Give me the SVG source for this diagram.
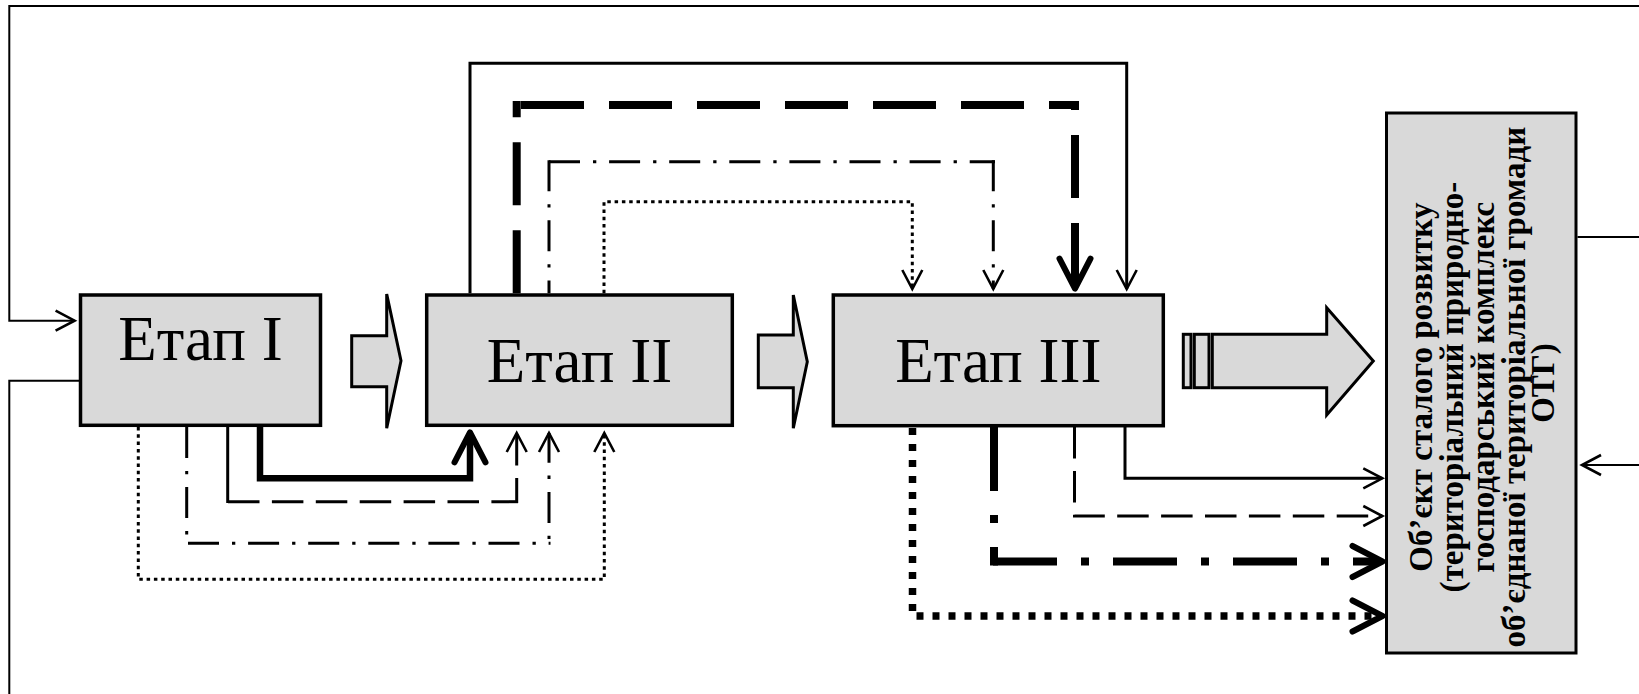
<svg xmlns="http://www.w3.org/2000/svg" width="1639" height="694" viewBox="0 0 1639 694">
  <style>
    .box { fill: #d9d9d9; stroke: #000; stroke-width: 3.5; }
    .blk { fill: #d9d9d9; stroke: #000; stroke-width: 3; stroke-linejoin: miter; }
    .ln { fill: none; stroke: #000; }
    .loop { stroke-width: 2; }
    .thin { stroke-width: 3; }
    .dash { stroke-width: 3; stroke-dasharray: 31.5 12.4; }
    .dd { stroke-width: 3; stroke-dasharray: 31 13 3.3 12.8; }
    .dot { stroke-width: 3; stroke-dasharray: 3.5 3.8; }
    .heavy { stroke-width: 6.5; }
    .ldash { stroke-width: 8; stroke-dasharray: 63 25; }
    .bdd { stroke-width: 8; stroke-dasharray: 64 24 8 24; }
    .bdot { stroke-width: 7.5; stroke-dasharray: 7 9; }
    .stage { font-family: "Liberation Serif", "Times New Roman", serif; font-size: 63px; text-anchor: middle; fill: #000; }
    .obj { font-family: "Liberation Serif", "Times New Roman", serif; font-weight: bold; font-size: 33px; text-anchor: middle; fill: #000; }
  </style>
  <defs>
    <!-- thin open chevron; the path end sits at the vertex -->
    <marker id="ah" markerUnits="userSpaceOnUse" markerWidth="30" markerHeight="30" refX="0" refY="0" orient="auto" overflow="visible">
      <path d="M-19,-10 L0,0 L-19,10" fill="none" stroke="#000" stroke-width="2.6"/>
    </marker>
    <!-- heavy open chevron with rounded ends -->
    <marker id="ahb" markerUnits="userSpaceOnUse" markerWidth="40" markerHeight="40" refX="0" refY="0" orient="auto" overflow="visible">
      <path d="M-27,-15.5 L3,0 L-27,15.5" fill="none" stroke="#000" stroke-width="6" stroke-linecap="round" stroke-linejoin="round"/>
    </marker>
  </defs>

  <rect width="1639" height="694" fill="#fff"/>

  <g id="connectors">
    <!-- outer feedback loops -->
    <path class="ln loop" d="M1639,6 H9.3 V320.7 H74.6" marker-end="url(#ah)"/>
    <path class="ln loop" d="M80,380.7 H9.3 V694"/>
    <path class="ln loop" d="M1577.5,237 H1639"/>
    <path class="ln loop" d="M1639,465 H1582" marker-end="url(#ah)"/>

    <!-- stage I to stage II, under the boxes -->
    <path class="ln heavy" d="M260,427 V478.3 H470 V435.3" marker-end="url(#ahb)"/>
    <path class="ln thin" d="M227.7,427 V503"/>
    <path class="ln dash" d="M228,501.7 H518"/>
    <path class="ln dash" d="M516.7,503 V433" stroke-dashoffset="6.5" marker-end="url(#ah)"/>
    <path class="ln dd" d="M186.7,427 V545"/>
    <path class="ln dd" d="M188,543.3 H550.5"/>
    <path class="ln dd" d="M549,545 V433" stroke-dashoffset="38" marker-end="url(#ah)"/>
    <path class="ln dot" d="M138.3,427 V579.3 H604.3 V433" marker-end="url(#ah)"/>

    <!-- stage II to stage III, over the boxes -->
    <path class="ln thin" d="M470,293.3 V63.3 H1126.7 V289" marker-end="url(#ah)"/>
    <path class="ln ldash" d="M516.7,293.3 V101"/>
    <path class="ln ldash" d="M521,105 H1079"/>
    <path class="ln ldash" d="M1075,101 V285.7" stroke-dashoffset="54" marker-end="url(#ahb)"/>
    <path class="ln dd" d="M549,160.2 V293.3"/>
    <path class="ln dd" d="M549,161.7 H995"/>
    <path class="ln dd" d="M993.3,160.2 V289" marker-end="url(#ah)"/>
    <path class="ln dot" d="M604,293.3 V201.7 H912.3 V289" marker-end="url(#ah)"/>

    <!-- stage III to the object -->
    <path class="ln bdot" d="M912.5,428 V616 H1379.5" marker-end="url(#ahb)"/>
    <path class="ln bdd" d="M994,427 V565.5"/>
    <path class="ln bdd" d="M993,561.5 H1379.5" marker-end="url(#ahb)"/>
    <path class="ln dash" d="M1074.5,427 V516 H1382.3" marker-end="url(#ah)"/>
    <path class="ln thin" d="M1125,427 V478.3 H1382.3" marker-end="url(#ah)"/>
  </g>

  <g id="stage1">
    <rect class="box" x="80.5" y="295" width="240" height="130.3"/>
    <text class="stage" x="200.5" y="360">Етап I</text>
  </g>

  <g id="step1to2">
    <polygon class="blk" points="351.7,335.7 386.7,335.7 386.7,294 401,360.7 386.7,428.3 386.7,386.7 351.7,386.7"/>
  </g>

  <g id="stage2">
    <rect class="box" x="426.7" y="295" width="305.6" height="130.3"/>
    <text class="stage" x="579.5" y="381.7">Етап II</text>
  </g>

  <g id="step2to3">
    <polygon class="blk" points="758.3,335 793.3,335 793.3,295 807.3,361.7 793.3,428.3 793.3,387.7 758.3,387.7"/>
  </g>

  <g id="stage3">
    <rect class="box" x="833.3" y="295" width="330" height="130.7"/>
    <text class="stage" x="998.3" y="381.7">Етап III</text>
  </g>

  <g id="result-arrow">
    <rect class="blk" x="1183.3" y="334.3" width="7.7" height="53.4"/>
    <rect class="blk" x="1194.3" y="334.3" width="14.7" height="53.4"/>
    <polygon class="blk" points="1212.3,334.3 1326.7,334.3 1326.7,307.7 1373.3,361 1326.7,415 1326.7,387.7 1212.3,387.7"/>
  </g>

  <g id="object">
    <rect class="blk" x="1386.5" y="113" width="189.5" height="540"/>
    <text class="obj" transform="rotate(-90)">
      <tspan x="-383" y="1432">Об’єкт сталого розвитку</tspan>
      <tspan x="-383" y="1463">(територіальний природно-</tspan>
      <tspan x="-383" y="1494">господарський комплекс</tspan>
      <tspan x="-383" y="1524.5">об’єднаної територіальної громади</tspan>
      <tspan x="-383" y="1554">ОТГ)</tspan>
    </text>
  </g>
</svg>
